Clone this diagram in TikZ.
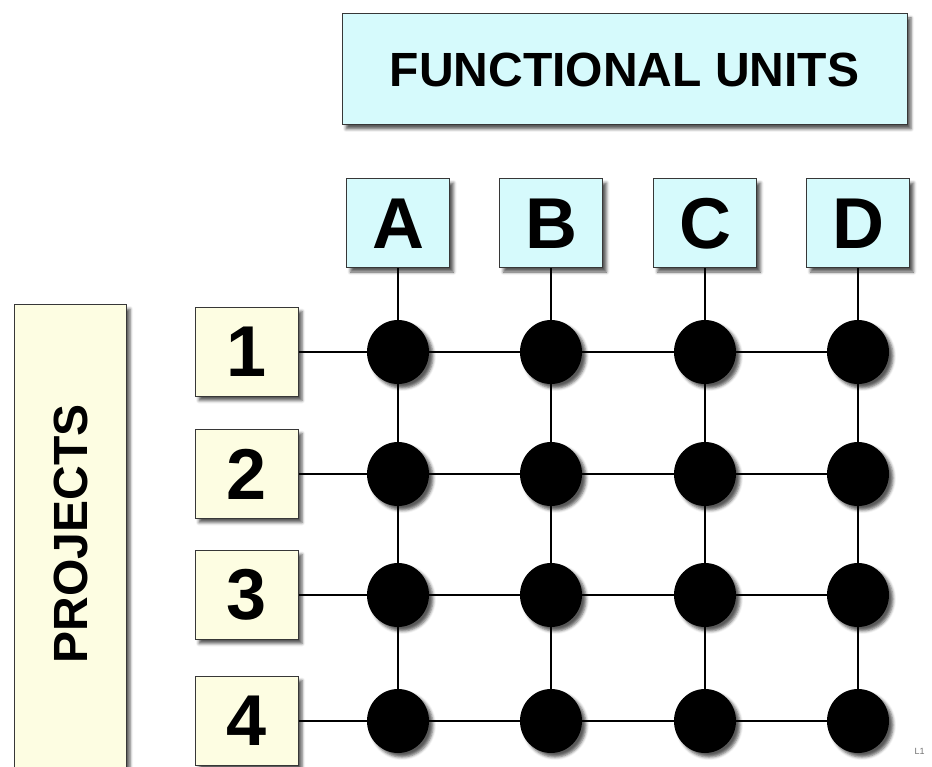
\documentclass[tikz,border=0pt]{standalone}
\usepackage{fontspec}
\setmainfont{Liberation Sans}
\usepackage{tikz}
\usetikzlibrary{shapes.geometric, shadows, shadows.blur, positioning, backgrounds}
\definecolor{unitcyan}{RGB}{214, 250, 252}
\definecolor{projyellow}{RGB}{253, 253, 226}
\definecolor{framegray}{RGB}{55, 55, 55}

\tikzset{
    box/.style={draw=framegray, line width=1pt, inner sep=0pt,
        blur shadow={shadow xshift=4pt, shadow yshift=-4pt, shadow blur radius=3pt, shadow opacity=65}},
    unitbox/.style={box, fill=unitcyan, minimum width=103pt, minimum height=89pt,
        font=\fontsize{72}{80}\selectfont\bfseries},
    projbox/.style={box, fill=projyellow, minimum width=103pt, minimum height=89pt,
        font=\fontsize{72}{80}\selectfont\bfseries},
    dot/.style={ellipse, fill=black, minimum width=62pt, minimum height=64pt, inner sep=0pt,
        blur shadow={shadow xshift=4pt, shadow yshift=-4pt, shadow blur radius=3pt, shadow opacity=65}},
    wire/.style={black, line width=1.6pt}
}

\begin{document}
\begin{tikzpicture}[x=1pt, y=-1pt]
    \useasboundingbox (0,0) rectangle (932,767);

    % headers
    \node[unitbox, minimum width=565pt, minimum height=111pt,
          font=\fontsize{48}{56}\selectfont\bfseries] (units) at (624.5,69.5) {FUNCTIONAL UNITS};
    \node[box, fill=projyellow, minimum width=112pt, minimum height=480pt] (projects) at (70,545) {};
    \node[rotate=90, font=\fontsize{48}{56}\selectfont\bfseries] (projtitle) at (71,534) {PROJECTS};

    % units and projects
    \foreach \l/\x in {A/398, B/551, C/705, D/858}
        \node[unitbox] (\l) at (\x,223.5) {\l};
    \foreach \n/\y in {1/352, 2/474, 3/595, 4/721}
        \node[projbox] (p\n) at (246.5,\y) {\n};

    % matrix of dots
    \foreach \l/\x in {A/398, B/551, C/705, D/858}
        \foreach \n/\y in {1/352, 2/474, 3/595, 4/721}
            \node[dot] (\l\n) at (\x,\y) {};

    \begin{scope}[on background layer]
        \foreach \l in {A, B, C, D}
            \draw[wire] (\l) -- (\l1) -- (\l2) -- (\l3) -- (\l4);
        \foreach \n in {1, 2, 3, 4}
            \draw[wire] (p\n) -- (A\n) -- (B\n) -- (C\n) -- (D\n);
    \end{scope}

    \node[font=\fontsize{9}{10}\selectfont, text=black!55, anchor=west] (tag) at (911,751) {L1};
\end{tikzpicture}
\end{document}
